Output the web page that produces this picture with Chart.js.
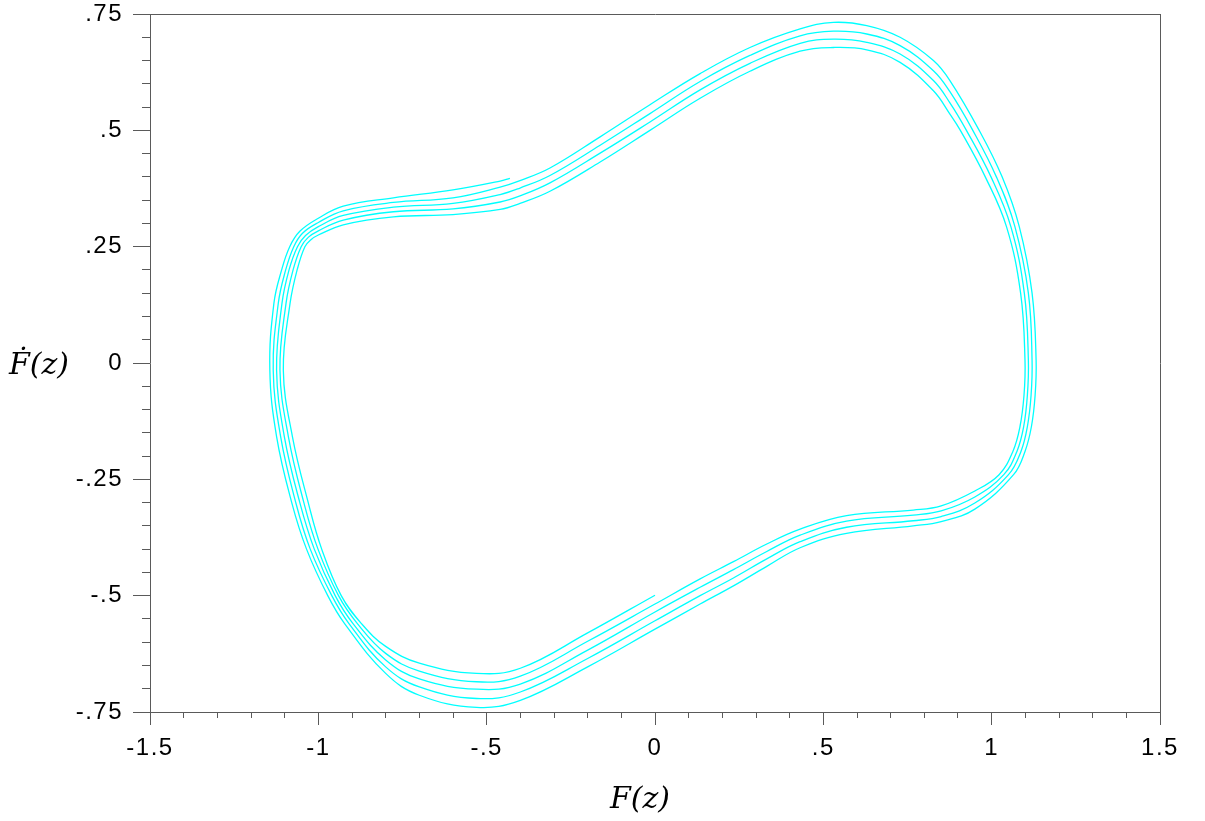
<!DOCTYPE html>
<html>
<head>
<meta charset="utf-8">
<title>Phase portrait</title>
<script src="https://cdn.jsdelivr.net/npm/chart.js@4"></script>
<style>
  html, body { margin: 0; padding: 0; background: #ffffff; }
  #plot { display: block; width: 1205px; height: 821px; }
</style>
</head>
<body>
<canvas id="plot" width="1205" height="821"></canvas>
<script>
// Trajectory in the (F, dF/dz) plane, traced clockwise from (0, -0.5).
// Each turn is its own list of [F(z), F'(z)] samples; the turns are joined end to end.
const turn1 = [
  [0, -0.499], [-0.2, -0.580], [-0.4, -0.656], [-0.53, -0.667], [-0.7, -0.645], [-0.8, -0.609],
  [-0.872, -0.56], [-0.932, -0.5], [-0.990, -0.4], [-1.030, -0.3], [-1.077, -0.158], [-1.104, -0.015],
  [-1.084, 0.128], [-1.063, 0.2], [-1.040, 0.25], [-1.022, 0.265], [-1.0, 0.275], [-0.926, 0.297],
  [-0.777, 0.314], [-0.6, 0.319], [-0.46, 0.330], [-0.401, 0.343], [-0.312, 0.369], [-0.163, 0.432],
  [-0.015, 0.500], [0.134, 0.569], [0.282, 0.627], [0.431, 0.670], [0.530, 0.678], [0.629, 0.673],
  [0.728, 0.646], [0.827, 0.585], [0.876, 0.535], [0.907, 0.5], [0.981, 0.4], [1.044, 0.293],
  [1.086, 0.150], [1.099, 0.006], [1.096, -0.07], [1.084, -0.137], [1.063, -0.19], [1.022, -0.24],
  [0.95, -0.275], [0.85, -0.307], [0.767, -0.316], [0.569, -0.328], [0.431, -0.357], [0.332, -0.389],
  [0.233, -0.427], [0.134, -0.464]
];
const turn2 = [
  [0, -0.518], [-0.2, -0.598], [-0.4, -0.673], [-0.53, -0.685], [-0.7, -0.662], [-0.8, -0.624],
  [-0.884, -0.56], [-0.940, -0.5], [-1.001, -0.4], [-1.043, -0.3], [-1.089, -0.158], [-1.114, -0.015],
  [-1.096, 0.128], [-1.075, 0.2], [-1.051, 0.25], [-1.030, 0.270], [-1.0, 0.284], [-0.926, 0.307],
  [-0.777, 0.325], [-0.6, 0.331], [-0.46, 0.346], [-0.401, 0.359], [-0.312, 0.387], [-0.163, 0.451],
  [-0.015, 0.518], [0.134, 0.587], [0.282, 0.644], [0.431, 0.687], [0.530, 0.696], [0.629, 0.689],
  [0.728, 0.664], [0.827, 0.607], [0.876, 0.559], [0.925, 0.5], [0.998, 0.4], [1.057, 0.293],
  [1.097, 0.150], [1.109, 0.006], [1.106, -0.07], [1.095, -0.137], [1.075, -0.19], [1.036, -0.24],
  [0.95, -0.288], [0.85, -0.318], [0.767, -0.327], [0.569, -0.340], [0.431, -0.370], [0.332, -0.405],
  [0.233, -0.444], [0.134, -0.482]
];
const turn3 = [
  [0, -0.535], [-0.2, -0.617], [-0.4, -0.690], [-0.53, -0.701], [-0.7, -0.679], [-0.8, -0.638],
  [-0.897, -0.56], [-0.950, -0.5], [-1.012, -0.4], [-1.055, -0.3], [-1.101, -0.158], [-1.124, -0.015],
  [-1.108, 0.128], [-1.087, 0.2], [-1.062, 0.25], [-1.038, 0.274], [-1.0, 0.293], [-0.926, 0.317],
  [-0.777, 0.335], [-0.6, 0.343], [-0.46, 0.362], [-0.401, 0.376], [-0.312, 0.403], [-0.163, 0.468],
  [-0.015, 0.536], [0.134, 0.605], [0.282, 0.661], [0.431, 0.703], [0.530, 0.713], [0.629, 0.707],
  [0.728, 0.682], [0.827, 0.628], [0.876, 0.583], [0.944, 0.5], [1.014, 0.4], [1.069, 0.293],
  [1.109, 0.150], [1.120, 0.006], [1.117, -0.07], [1.106, -0.137], [1.087, -0.19], [1.050, -0.24],
  [0.95, -0.301], [0.85, -0.330], [0.767, -0.339], [0.569, -0.353], [0.431, -0.384], [0.332, -0.421],
  [0.233, -0.462], [0.134, -0.500]
];
const turn4 = [
  [0, -0.554], [-0.2, -0.635], [-0.4, -0.707], [-0.53, -0.721], [-0.7, -0.696], [-0.8, -0.653],
  [-0.909, -0.56], [-0.960, -0.5], [-1.024, -0.4], [-1.067, -0.3], [-1.112, -0.158], [-1.134, -0.015],
  [-1.119, 0.128], [-1.097, 0.2], [-1.073, 0.25], [-1.047, 0.279], [-1.0, 0.302], [-0.926, 0.327],
  [-0.777, 0.345], [-0.6, 0.355], [-0.46, 0.378], [-0.401, 0.392], [-0.312, 0.419], [-0.163, 0.486],
  [-0.015, 0.555], [0.134, 0.622], [0.282, 0.678], [0.431, 0.718], [0.530, 0.732], [0.629, 0.725],
  [0.728, 0.700], [0.827, 0.650], [0.876, 0.607], [0.963, 0.5], [1.031, 0.4], [1.082, 0.293],
  [1.120, 0.150], [1.132, 0.006], [1.129, -0.07], [1.118, -0.137], [1.099, -0.19], [1.065, -0.24],
  [0.95, -0.314], [0.85, -0.341], [0.767, -0.350], [0.569, -0.366], [0.431, -0.397], [0.332, -0.437],
  [0.233, -0.479], [0.134, -0.518]
];
// last, partial turn: ends on the upper-left shoulder
const turn5 = [
  [0, -0.572], [-0.2, -0.653], [-0.4, -0.725], [-0.53, -0.740], [-0.7, -0.714], [-0.8, -0.667],
  [-0.922, -0.56], [-0.972, -0.5], [-1.035, -0.4], [-1.079, -0.3], [-1.124, -0.158], [-1.144, -0.015],
  [-1.132, 0.128], [-1.109, 0.2], [-1.085, 0.25], [-1.055, 0.283], [-1.0, 0.311], [-0.926, 0.337],
  [-0.777, 0.355], [-0.6, 0.372], [-0.46, 0.391], [-0.431, 0.397]
];

// Axis ticks and their printed labels
const xMajorTicks = [-1.5, -1, -0.5, 0, 0.5, 1, 1.5];
const xTickLabels = ['-1.5', '-1', '-.5', '0', '.5', '1', '1.5'];
const yMajorTicks = [-0.75, -0.5, -0.25, 0, 0.25, 0.5, 0.75];
const yTickLabels = ['-.75', '-.5', '-.25', '0', '.25', '.5', '.75'];
const xMinorStep = 0.1;
const yMinorStep = 0.05;
const xTitle = 'F(z)';
const yTitle = '\u1E1E(z)';

const axisColor = '#5a5a5a';
const curveColor = '#00ffff';
const tickFont = { family: '"Liberation Sans", Arial, sans-serif', size: 24, lineHeight: 1 };
const titleFont = 'italic 30px "DejaVu Serif", "Liberation Serif", serif';
const tickLetterSpacing = '1.5px';

const trajectory = [].concat(turn1, turn2, turn3, turn4, turn5).map(([x, y]) => ({ x, y }));

// Draws the horizontal axis titles and widens the tick-label spacing a little.
const axisTitles = {
  id: 'axisTitles',
  beforeDraw(chart) {
    chart.ctx.letterSpacing = tickLetterSpacing;
  },
  afterDraw(chart) {
    const { ctx, chartArea } = chart;
    ctx.save();
    ctx.letterSpacing = '0px';
    ctx.font = titleFont;
    ctx.fillStyle = '#000000';
    ctx.textBaseline = 'alphabetic';
    ctx.textAlign = 'center';
    ctx.fillText(xTitle, (chartArea.left + chartArea.right) / 2 - 15, chartArea.bottom + 96);
    ctx.textAlign = 'left';
    ctx.fillText(yTitle, 9, (chartArea.top + chartArea.bottom) / 2 + 11);
    ctx.restore();
  }
};

const hiddenGrid = { display: false, drawTicks: false };

new Chart(document.getElementById('plot'), {
  type: 'scatter',
  data: {
    datasets: [{
      data: trajectory,
      showLine: true,
      borderColor: curveColor,
      borderWidth: 1.3,
      pointRadius: 0,
      pointHoverRadius: 0,
      tension: 0.4,
      fill: false
    }]
  },
  options: {
    responsive: false,
    animation: false,
    events: [],
    layout: { padding: { top: 14, right: 45, bottom: 0, left: 0 } },
    plugins: { legend: { display: false }, tooltip: { enabled: false } },
    scales: {
      x: {
        type: 'linear', position: 'bottom', min: -1.5, max: 1.5,
        afterBuildTicks: s => { s.ticks = xMajorTicks.map(v => ({ value: v })); },
        afterFit: s => { s.height = 109; s.paddingLeft = 0; s.paddingRight = 0; },
        ticks: {
          callback: (v, i) => xTickLabels[i],
          autoSkip: false, maxRotation: 0, minRotation: 0,
          padding: 11, color: '#000000', font: tickFont
        },
        grid: { drawOnChartArea: false, drawTicks: true, tickLength: 13, tickColor: axisColor, tickWidth: 1 },
        border: { display: true, color: axisColor, width: 1 }
      },
      xMinor: {
        type: 'linear', axis: 'x', position: { y: -0.75 }, min: -1.5, max: 1.5, display: true,
        ticks: { stepSize: xMinorStep, display: false },
        grid: { drawOnChartArea: false, drawTicks: true, tickLength: 6, tickColor: axisColor, tickWidth: 1 },
        border: { display: false }
      },
      xTop: {
        type: 'linear', axis: 'x', position: 'top', min: -1.5, max: 1.5, display: true,
        afterFit: s => { s.height = 0; },
        ticks: { display: false },
        grid: hiddenGrid,
        border: { display: true, color: axisColor, width: 1 }
      },
      y: {
        type: 'linear', position: 'left', min: -0.75, max: 0.75,
        afterBuildTicks: s => { s.ticks = yMajorTicks.map(v => ({ value: v })); },
        afterFit: s => { s.width = 150; s.paddingTop = 0; s.paddingBottom = 0; },
        ticks: {
          callback: (v, i) => yTickLabels[i],
          autoSkip: false, padding: 10, color: '#000000', font: tickFont
        },
        grid: { drawOnChartArea: false, drawTicks: true, tickLength: 17, tickColor: axisColor, tickWidth: 1 },
        border: { display: true, color: axisColor, width: 1 }
      },
      yMinor: {
        type: 'linear', axis: 'y', position: { x: -1.5 }, min: -0.75, max: 0.75, display: true,
        ticks: { stepSize: yMinorStep, display: false },
        grid: { drawOnChartArea: false, drawTicks: true, tickLength: 8, tickColor: axisColor, tickWidth: 1 },
        border: { display: false }
      },
      yRight: {
        type: 'linear', axis: 'y', position: 'right', min: -0.75, max: 0.75, display: true,
        afterFit: s => { s.width = 0; },
        ticks: { display: false },
        grid: hiddenGrid,
        border: { display: true, color: axisColor, width: 1 }
      }
    }
  },
  plugins: [axisTitles]
});
</script>
</body>
</html>
